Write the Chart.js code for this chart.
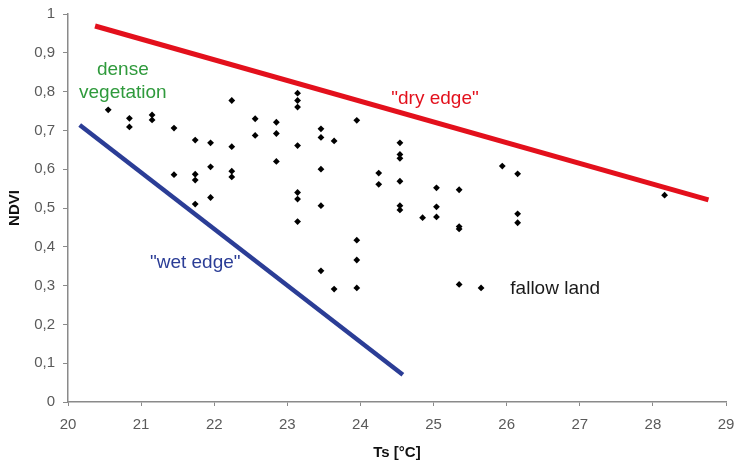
<!DOCTYPE html>
<html>
<head>
<meta charset="utf-8">
<script src="https://cdn.jsdelivr.net/npm/chart.js@4/dist/chart.umd.min.js"></script>
<style>
  html, body { margin: 0; padding: 0; background: #fff; }
  #wrap { width: 734px; height: 466px; }
</style>
</head>
<body>
<div id="wrap"><canvas id="c"></canvas></div>
<script>
// pixel samples (Ts °C, NDVI)
const tsValues = [
  20.55, 20.84, 20.84, 21.15, 21.15, 21.45, 21.45, 21.74, 21.74, 21.74, 21.74,
  21.95, 21.95, 21.95, 22.24, 22.24, 22.24, 22.24, 22.56, 22.56, 22.85, 22.85, 22.85,
  23.14, 23.14, 23.14, 23.14, 23.14, 23.14, 23.14,
  23.46, 23.46, 23.46, 23.46, 23.46, 23.64, 23.64, 23.95, 23.95, 23.95, 23.95,
  24.25, 24.25, 24.54, 24.54, 24.54, 24.54, 24.54, 24.54,
  24.85, 25.04, 25.04, 25.04, 25.35, 25.35, 25.35, 25.35, 25.65,
  25.94, 26.15, 26.15, 26.15, 28.16
];
const ndviValues = [
  0.753, 0.731, 0.709, 0.740, 0.727, 0.706, 0.586, 0.675, 0.587, 0.572, 0.510,
  0.668, 0.606, 0.527, 0.777, 0.658, 0.595, 0.580, 0.730, 0.687, 0.721, 0.692, 0.620,
  0.796, 0.777, 0.760, 0.661, 0.540, 0.523, 0.465,
  0.704, 0.682, 0.600, 0.506, 0.338, 0.673, 0.291, 0.726, 0.417, 0.366, 0.294,
  0.590, 0.561, 0.668, 0.638, 0.628, 0.569, 0.506, 0.495,
  0.475, 0.552, 0.503, 0.477, 0.547, 0.452, 0.446, 0.303, 0.294,
  0.608, 0.588, 0.485, 0.462, 0.533
];

// edges
const dryEdgeTs = [20.37, 28.76];
const dryEdgeNdvi = [0.969, 0.521];
const wetEdgeTs = [20.16, 24.58];
const wetEdgeNdvi = [0.714, 0.070];

const yTicks = [0, 0.1, 0.2, 0.3, 0.4, 0.5, 0.6, 0.7, 0.8, 0.9, 1];

// text labels, anchored at their baseline, in data units
const labels = [
  { text: 'dense', ts: 20.75, ndvi: 0.843, color: '#2f9a3c', align: 'center' },
  { text: 'vegetation', ts: 20.75, ndvi: 0.783, color: '#2f9a3c', align: 'center' },
  { text: '"dry edge"', ts: 25.02, ndvi: 0.767, color: '#e3101c', align: 'center' },
  { text: '"wet edge"', ts: 21.74, ndvi: 0.345, color: '#2b3d96', align: 'center' },
  { text: 'fallow land', ts: 26.05, ndvi: 0.278, color: '#1a1a1a', align: 'left' }
];

const toXY = (xs, ys) => xs.map((x, i) => ({ x, y: ys[i] }));

const textPlugin = {
  id: 'textLabels',
  afterDatasetsDraw(chart) {
    const ctx = chart.ctx;
    const { x, y } = chart.scales;
    ctx.save();
    ctx.font = '19px "Liberation Sans", Arial, sans-serif';
    ctx.textBaseline = 'alphabetic';
    labels.forEach((l) => {
      ctx.fillStyle = l.color;
      ctx.textAlign = l.align;
      ctx.fillText(l.text, x.getPixelForValue(l.ts), y.getPixelForValue(l.ndvi));
    });
    ctx.restore();
  },
};

const axisGray = '#8a8a8a';
const tickColor = '#5a5a5a';
const fontFamily = '"Liberation Sans", Arial, sans-serif';

const config = {
  type: 'scatter',
  data: {
    datasets: [
      {
        label: 'dry edge',
        data: toXY(dryEdgeTs, dryEdgeNdvi),
        showLine: true,
        borderColor: '#e3101c',
        borderWidth: 5,
        pointRadius: 0,
        borderCapStyle: 'butt',
      },
      {
        label: 'wet edge',
        data: toXY(wetEdgeTs, wetEdgeNdvi),
        showLine: true,
        borderColor: '#2b3d96',
        borderWidth: 4.5,
        pointRadius: 0,
        borderCapStyle: 'butt',
      },
      {
        label: 'NDVI',
        data: toXY(tsValues, ndviValues),
        pointStyle: 'rectRot',
        pointRadius: 3.4,
        backgroundColor: '#000',
        borderColor: '#000',
        borderWidth: 0,
      },
    ],
  },
  options: {
    responsive: true,
    maintainAspectRatio: false,
    animation: false,
    layout: { padding: { top: 14, right: 8, left: 0, bottom: 0 } },
    plugins: {
      legend: { display: false },
      tooltip: { enabled: false },
    },
    scales: {
      x: {
        type: 'linear',
        min: 20,
        max: 29,
        ticks: {
          stepSize: 1,
          color: tickColor,
          padding: 10,
          font: { family: fontFamily, size: 15 },
        },
        grid: { drawOnChartArea: false, color: axisGray, tickLength: 4 },
        border: { color: axisGray, width: 1.5 },
        title: {
          display: true,
          text: 'Ts [°C]',
          color: '#111',
          padding: { top: 2 },
          font: { family: fontFamily, size: 15, weight: 'bold' },
        },
        afterFit(scale) {
          scale.height = 64;
          scale.paddingRight = 0;
        },
      },
      y: {
        min: 0,
        max: 1,
        afterBuildTicks(scale) { scale.ticks = yTicks.map((v) => ({ value: v })); },
        ticks: {
          color: tickColor,
          padding: 8,
          font: { family: fontFamily, size: 15 },
          callback: (v) => (v === 0 || v === 1 ? String(v) : v.toFixed(1).replace('.', ',')),
        },
        grid: { drawOnChartArea: false, color: axisGray, tickLength: 5 },
        border: { color: axisGray, width: 1.5 },
        title: {
          display: true,
          text: 'NDVI',
          color: '#111',
          padding: { top: 6, bottom: 0 },
          font: { family: fontFamily, size: 15, weight: 'bold' },
        },
        afterFit(scale) {
          scale.width = 68;
          scale.paddingTop = 0;
          scale.paddingBottom = 0;
        },
      },
    },
  },
  plugins: [textPlugin],
};

new Chart(document.getElementById('c').getContext('2d'), config);
</script>
</body>
</html>
